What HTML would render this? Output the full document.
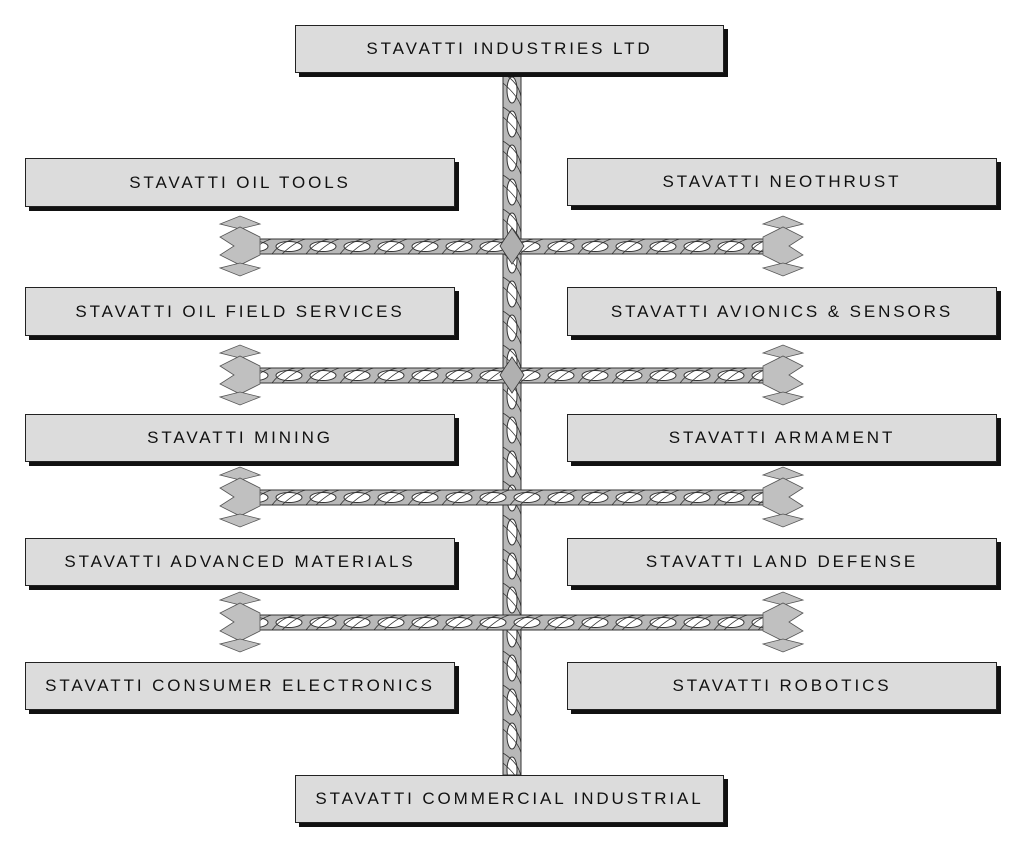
<!DOCTYPE html><html><head><style>
body{margin:0;background:#fff;width:1024px;height:852px;overflow:hidden;position:relative;font-family:"Liberation Sans","DejaVu Sans",sans-serif}
.b{position:absolute;background:#dcdcdc;border:1.5px solid #222;box-shadow:4px 4px 0 #111;display:flex;align-items:center;justify-content:center;font-size:17px;letter-spacing:2.9px;color:#111;box-sizing:border-box;white-space:nowrap}
svg{position:absolute;left:0;top:0}
</style></head><body>
<svg width="1024" height="852">
<defs>
<g id="hp">
<rect width="34" height="15" fill="#b8b8b8"/>
<ellipse cx="17" cy="7.5" rx="13" ry="5" fill="#fff" stroke="#333" stroke-width="1"/>
<path d="M0 15 Q10 2 24 0 M10 15 Q24 2 34 0" stroke="#333" fill="none" stroke-width="0.8"/>
</g>
<pattern id="h1" width="34" height="15" patternUnits="userSpaceOnUse" patternTransform="translate(0,239)"><use href="#hp"/></pattern>
<pattern id="h2" width="34" height="15" patternUnits="userSpaceOnUse" patternTransform="translate(0,368)"><use href="#hp"/></pattern>
<pattern id="h3" width="34" height="15" patternUnits="userSpaceOnUse" patternTransform="translate(0,490)"><use href="#hp"/></pattern>
<pattern id="h4" width="34" height="15" patternUnits="userSpaceOnUse" patternTransform="translate(0,615)"><use href="#hp"/></pattern>
<pattern id="v" width="18" height="34" patternUnits="userSpaceOnUse" patternTransform="translate(503,73)">
<rect width="18" height="34" fill="#b8b8b8"/>
<ellipse cx="9" cy="17" rx="5" ry="13" fill="#fff" stroke="#333" stroke-width="1"/>
<path d="M0 0 Q16 10 18 24 M0 10 Q16 24 18 34" stroke="#333" fill="none" stroke-width="0.8"/>
</pattern>
<g id="ar" fill="#c0c0c0" stroke="#555" stroke-width="0.8">
<polygon points="-20,-22 0,-30 20,-22 0,-17"/>
<polygon points="-20,-9 0,-19 20,-9 6,0 20,9 0,19 -20,9"/>
<polygon points="-20,22 0,17 20,22 0,30"/>
</g>
</defs>
<rect x="503" y="73" width="18" height="702" fill="url(#v)" stroke="#333"/>
<g stroke="#333">
<rect x="248" y="239" width="526" height="15" fill="url(#h1)"/>
<rect x="248" y="368" width="526" height="15" fill="url(#h2)"/>
<rect x="248" y="490" width="526" height="15" fill="url(#h3)"/>
<rect x="248" y="615" width="526" height="15" fill="url(#h4)"/>
</g>
<g fill="#b0b0b0" stroke="#333" stroke-width="0.8">
<polygon points="512,228 524,246 512,264 500,246"/>
<polygon points="512,357 524,375 512,393 500,375"/>
</g>
<use href="#ar" transform="translate(240,246) scale(-1,1)"/>
<use href="#ar" transform="translate(783,246)"/>
<use href="#ar" transform="translate(240,375) scale(-1,1)"/>
<use href="#ar" transform="translate(783,375)"/>
<use href="#ar" transform="translate(240,497) scale(-1,1)"/>
<use href="#ar" transform="translate(783,497)"/>
<use href="#ar" transform="translate(240,622) scale(-1,1)"/>
<use href="#ar" transform="translate(783,622)"/>
</svg>
<div class="b" style="left:295px;top:25px;width:429px;height:48px">STAVATTI INDUSTRIES LTD</div>
<div class="b" style="left:25px;top:158px;width:430px;height:49px">STAVATTI OIL TOOLS</div>
<div class="b" style="left:25px;top:287px;width:430px;height:49px">STAVATTI OIL FIELD SERVICES</div>
<div class="b" style="left:25px;top:414px;width:430px;height:48px">STAVATTI MINING</div>
<div class="b" style="left:25px;top:538px;width:430px;height:48px">STAVATTI ADVANCED MATERIALS</div>
<div class="b" style="left:25px;top:662px;width:430px;height:48px">STAVATTI CONSUMER ELECTRONICS</div>
<div class="b" style="left:567px;top:158px;width:430px;height:48px">STAVATTI NEOTHRUST</div>
<div class="b" style="left:567px;top:287px;width:430px;height:49px">STAVATTI AVIONICS &amp; SENSORS</div>
<div class="b" style="left:567px;top:414px;width:430px;height:48px">STAVATTI ARMAMENT</div>
<div class="b" style="left:567px;top:538px;width:430px;height:48px">STAVATTI LAND DEFENSE</div>
<div class="b" style="left:567px;top:662px;width:430px;height:48px">STAVATTI ROBOTICS</div>
<div class="b" style="left:295px;top:775px;width:429px;height:48px">STAVATTI COMMERCIAL INDUSTRIAL</div>
</body></html>
